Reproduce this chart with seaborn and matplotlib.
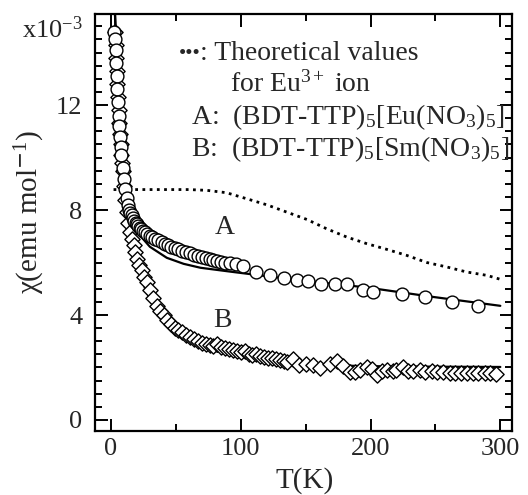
import matplotlib
matplotlib.use("Agg")
import matplotlib.pyplot as plt
from matplotlib.ticker import MultipleLocator
import seaborn as sns

# sample A: (BDT-TTP)5[Eu(NO3)5]  -- open circles
T_A = [2.5, 3, 3.5, 4, 4.5, 5, 5.5, 6, 6.5, 7, 7.5, 8, 9, 10, 11, 12, 13, 14, 15, 16,
       17, 18, 19, 20, 21, 22, 23, 24.5, 26, 28, 30, 32, 34, 36.5, 39, 41.5, 44, 46.5,
       49, 52, 55, 58, 61, 64, 67, 70, 73, 76, 79, 82, 85, 88, 92, 96, 102, 112, 122.5,
       133, 143, 152, 162, 172.5, 182, 194, 202, 224, 242, 262.5, 283]
chi_A = [14.8, 14.5, 14.1, 13.6, 13.1, 12.6, 12.1, 11.6, 11.2, 10.8, 10.4, 10.1, 9.6, 9.2,
         8.8, 8.45, 8.2, 8.0, 7.9, 7.8, 7.7, 7.6, 7.52, 7.45, 7.38, 7.32, 7.27, 7.2, 7.15,
         7.08, 7.02, 6.96, 6.9, 6.84, 6.78, 6.72, 6.66, 6.61, 6.56, 6.5, 6.45, 6.4, 6.35,
         6.3, 6.26, 6.22, 6.18, 6.14, 6.1, 6.06, 6.02, 5.99, 5.97, 5.95, 5.86, 5.64, 5.51,
         5.42, 5.35, 5.29, 5.2, 5.17, 5.17, 4.94, 4.88, 4.79, 4.67, 4.5, 4.33]

# sample B: (BDT-TTP)5[Sm(NO3)5]  -- open diamonds
T_B = [3, 3.5, 4, 4.5, 5, 5.5, 6, 6.5, 7, 7.5, 8, 8.5, 9, 10, 11, 12, 13.5, 14.6, 16,
       17.5, 18.5, 19.8, 21.5, 23.7, 25.5, 27.5, 30, 32.6, 35.2, 37.8, 40.5, 43, 46, 49,
       52, 55, 58, 61, 64, 67, 70, 73, 76, 79, 82, 85, 88, 91, 94, 97, 100, 103, 106, 109,
       112, 115, 118, 121, 124, 127, 130, 133, 136, 140, 145, 150, 156, 161, 169, 174,
       179, 184, 188, 192, 197, 201, 205, 209, 213, 217, 220, 225, 229, 233, 238, 242,
       247, 251, 256, 261, 265, 270, 274, 279, 283, 288, 292, 297]
chi_B = [14.8, 14.3, 13.8, 13.3, 12.8, 12.3, 11.8, 11.3, 10.9, 10.5, 10.1, 9.8, 9.5, 8.9,
         8.4, 7.92, 7.5, 7.16, 6.9, 6.65, 6.4, 6.14, 5.9, 5.7, 5.45, 5.25, 4.95, 4.65, 4.35,
         4.15, 4.0, 3.8, 3.64, 3.52, 3.42, 3.34, 3.25, 3.17, 3.08, 3.0, 2.94, 2.9, 2.86, 2.82,
         2.9, 2.77, 2.73, 2.69, 2.65, 2.62, 2.6, 2.63, 2.53, 2.49, 2.51, 2.45, 2.41, 2.38,
         2.35, 2.32, 2.28, 2.25, 2.2, 2.34, 2.09, 2.12, 2.09, 1.97, 2.15, 2.25, 2.05, 1.84,
         1.82, 1.9, 2.03, 1.95, 1.71, 1.85, 1.9, 1.88, 1.92, 2.03, 1.85, 1.85, 1.9, 1.84,
         1.88, 1.82, 1.82, 1.8, 1.8, 1.8, 1.8, 1.78, 1.8, 1.78, 1.78, 1.76]

# fitted curves
T_fitA = [3, 4, 5, 6, 7, 8, 10, 13, 17, 22, 30, 43, 56, 69, 94, 120, 146, 197, 248, 300]
chi_fitA = [15.6, 14.2, 13.0, 12.0, 11.2, 10.5, 9.5, 8.5, 7.6, 7.05, 6.6, 6.18, 5.95,
            5.8, 5.64, 5.48, 5.32, 5.05, 4.69, 4.35]
T_fitB = [3, 4, 5, 6, 8, 10, 12, 15, 18, 22, 26, 30, 35, 40, 50, 60, 70, 80, 100, 120,
          140, 160, 180, 200, 250, 300]
chi_fitB = [15.6, 14.4, 13.4, 12.5, 10.9, 9.6, 8.5, 7.3, 6.45, 5.65, 5.05, 4.6, 4.15,
            3.8, 3.32, 3.02, 2.8, 2.63, 2.42, 2.28, 2.18, 2.11, 2.07, 2.05, 2.03, 2.02]

# theoretical values for Eu3+ ion
T_theo = [2, 20, 40, 60, 74, 89, 104.6, 120, 135.5, 151, 166, 181.7, 197, 212.6, 228,
          243.4, 258.8, 274, 289.7, 300]
chi_theo = [8.78, 8.78, 8.78, 8.78, 8.75, 8.66, 8.43, 8.2, 7.92, 7.64, 7.29, 6.97, 6.72,
            6.5, 6.27, 6.0, 5.83, 5.64, 5.51, 5.36]

sns.set_style("ticks")
plt.rcParams['font.family'] = ['Liberation Serif', 'DejaVu Serif']
plt.rcParams['mathtext.fontset'] = 'custom'
plt.rcParams['mathtext.rm'] = 'Liberation Serif'
plt.rcParams['mathtext.it'] = 'Liberation Serif:italic'

fs = 19
fig = plt.figure(figsize=(5.28, 4.95), dpi=100)
ax = fig.add_axes([95/528, 1-431/495, 417/528, 417/495])

sns.lineplot(x=T_theo, y=chi_theo, color='black', lw=2.0, linestyle=(0, (1, 1.6)), ax=ax)
sns.lineplot(x=T_fitA, y=chi_fitA, color='black', lw=1.6, ax=ax)
sns.lineplot(x=T_fitB, y=chi_fitB, color='black', lw=1.6, ax=ax)
sns.scatterplot(x=T_B, y=chi_B, marker='D', s=60, facecolor='white', edgecolor='black',
                linewidth=1.0, ax=ax, zorder=3)
sns.scatterplot(x=T_A, y=chi_A, marker='o', s=85, facecolor='white', edgecolor='black',
                linewidth=1.0, ax=ax, zorder=4)

ax.set_xlim(-12.3, 309)
ax.set_ylim(-0.42, 15.47)
ax.xaxis.set_major_locator(MultipleLocator(100))
ax.xaxis.set_minor_locator(MultipleLocator(50))
ax.yaxis.set_major_locator(MultipleLocator(4))
ax.yaxis.set_minor_locator(MultipleLocator(0.5))
ax.tick_params(which='both', direction='in', top=True, right=True, width=1.4,
               labelsize=fs, color='black')
ax.tick_params(which='major', length=9)
ax.tick_params(which='minor', length=5)
ax.tick_params(axis='y', pad=9)
ax.tick_params(axis='x', pad=5)
for sp in ax.spines.values():
    sp.set_linewidth(1.6)
    sp.set_color('black')

ax.set_xlabel('')
ax.set_ylabel('')
fig.text(305/528, 1-481/495, 'T(K)', fontsize=21, ha='center', va='center')
fig.text(30/528, 1-212/495, 'χ(emu mol$^{\\mathsf{-}1}$)', fontsize=21, ha='center',
         va='center', rotation=90)
fig.text(22/528, 1-38/495, 'x10$^{-3}$', fontsize=fs, ha='left', va='baseline')

lfs = 20
ax.text(0.202, 0.891, '•••', fontsize=15, transform=ax.transAxes)
ax.text(0.251, 0.890, ': Theoretical values', fontsize=lfs, transform=ax.transAxes)
ax.text(0.324, 0.813, 'for Eu$^{3+}$ ion', fontsize=lfs, transform=ax.transAxes)
ax.text(0.230, 0.736, 'A:  (BDT-TTP)$_5$[Eu(NO$_3$)$_5$]', fontsize=lfs,
        transform=ax.transAxes)
ax.text(0.230, 0.659, 'B:  (BDT-TTP)$_5$[Sm(NO$_3$)$_5$]', fontsize=lfs,
        transform=ax.transAxes)
ax.text(0.312, 0.487, 'A', fontsize=fs + 1, ha='center', va='center', transform=ax.transAxes)
ax.text(0.305, 0.266, 'B', fontsize=fs + 1, ha='center', va='center', transform=ax.transAxes)

fig.savefig('out.png', dpi=100)
